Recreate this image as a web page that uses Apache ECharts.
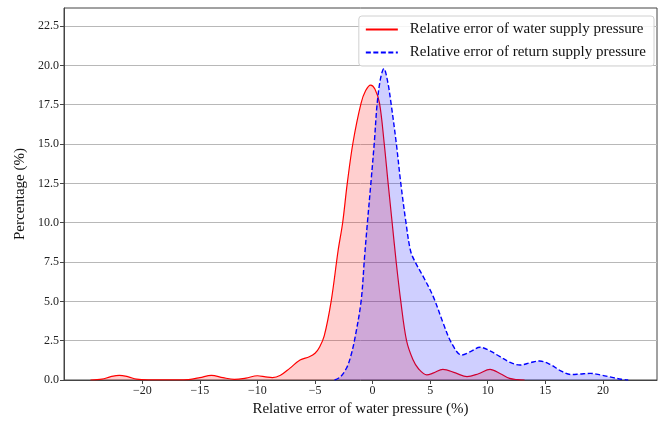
<!DOCTYPE html>
<html>
<head>
<meta charset="utf-8">
<script src="https://cdn.jsdelivr.net/npm/echarts@6/dist/echarts.min.js"></script>
<style>
  html, body { margin: 0; padding: 0; background: #fff; }
  #myChart { width: 664px; height: 424px; }
</style>
</head>
<body>
<div id="myChart"></div>
<script>
// relative error of water supply pressure (%), density in %
const supplyX = [-24.5, -23.5, -22.8, -22, -21.2, -20.5, -19.5, -17, -16, -15, -14, -13, -12, -11, -10, -9.3, -8.7, -8, -7.2, -6.3, -5.5, -5, -4.6, -4.2, -3.6, -3.0, -2.6, -2.2, -1.7, -1.0, -0.6, -0.17, 0.2, 0.6, 1.0, 1.35, 1.7, 2.05, 2.45, 2.95, 3.5, 4.0, 4.7, 5.3, 6.1, 7.2, 8.2, 9.2, 10.2, 11.1, 11.9, 12.6, 13.2];
const supplyY = [0, 0.05, 0.2, 0.3, 0.2, 0.05, 0.01, 0.01, 0.03, 0.15, 0.3, 0.15, 0.04, 0.12, 0.27, 0.2, 0.15, 0.3, 0.74, 1.27, 1.48, 1.7, 2.1, 2.8, 5.0, 8.2, 10.0, 12.5, 15.1, 17.6, 18.4, 18.75, 18.5, 17.6, 15.1, 12.5, 10.0, 7.5, 5.0, 2.5, 1.3, 0.7, 0.32, 0.45, 0.68, 0.45, 0.21, 0.4, 0.68, 0.4, 0.1, 0.02, 0];

// relative error of return supply pressure
const returnX = [-3.3, -2.8, -2.26, -1.9, -1.55, -1.0, -0.7, -0.45, -0.15, 0.15, 0.4, 0.7, 0.98, 1.3, 1.6, 2.05, 2.45, 2.9, 3.3, 3.7, 4.4, 5.27, 6.14, 6.87, 7.74, 8.5, 9.33, 10.2, 11.07, 12.0, 12.8, 13.7, 14.5, 15.4, 16.3, 17.2, 18.0, 18.9, 19.8, 20.9, 21.6, 22.2];
const returnY = [0, 0.2, 0.76, 1.5, 2.6, 5.0, 7.8, 10.0, 12.5, 15.1, 17.6, 19.2, 19.8, 19.0, 17.6, 15.1, 12.5, 10.0, 8.2, 7.5, 6.57, 5.3, 3.6, 2.33, 1.59, 1.8, 2.08, 1.85, 1.48, 1.1, 0.95, 1.1, 1.21, 1.0, 0.6, 0.35, 0.38, 0.42, 0.32, 0.15, 0.05, 0];

const xTicks = [-20, -15, -10, -5, 0, 5, 10, 15, 20];
const yTicks = [0, 2.5, 5, 7.5, 10, 12.5, 15, 17.5, 20, 22.5];

const names = ['Relative error of water supply pressure', 'Relative error of return supply pressure'];

const font = "'Liberation Serif', 'Times New Roman', serif";

const pairs = (xs, ys) => xs.map((v, i) => [v, ys[i]]);

const option = {
  animation: false,
  textStyle: { fontFamily: font },
  grid: {
    left: 64,
    right: 7,
    top: 8,
    bottom: 44,
    show: true,
    borderColor: '#444',
    borderWidth: 1,
  },
  legend: {
    orient: 'vertical',
    right: 10,
    top: 16,
    itemWidth: 32,
    itemHeight: 14,
    itemGap: 8,
    padding: [6, 8, 6, 6],
    backgroundColor: 'rgba(255,255,255,0.85)',
    borderColor: '#d0d0d0',
    borderWidth: 1,
    borderRadius: 3,
    itemStyle: { opacity: 0 }, // hide the dot, keep the line
    textStyle: {
      fontFamily: font,
      fontSize: 15,
      color: '#111',
      padding: [0, 0, 0, 7],
    },
    data: names,
  },
  xAxis: {
    type: 'value',
    min: -26.8,
    max: 24.7,
    name: 'Relative error of water pressure (%)',
    nameLocation: 'middle',
    nameGap: 19,
    nameTextStyle: { fontFamily: font, fontSize: 15, color: '#111' },
    axisLine: { show: true, onZero: false, lineStyle: { color: '#444' } },
    axisTick: { show: true, length: 4, customValues: xTicks, lineStyle: { color: '#444' } },
    axisLabel: {
      customValues: xTicks,
      fontFamily: font,
      fontSize: 12,
      color: '#222',
      margin: 5,
      formatter: (v) => String(v).replace('-', '\u2212'),
    },
    splitLine: { show: false },
  },
  yAxis: {
    type: 'value',
    min: 0,
    max: 23.65,
    name: 'Percentage (%)',
    nameLocation: 'middle',
    nameGap: 33,
    nameTextStyle: { fontFamily: font, fontSize: 15, color: '#111' },
    axisLine: { show: true, onZero: false, lineStyle: { color: '#444' } },
    axisTick: { show: true, length: 4, customValues: yTicks, lineStyle: { color: '#444' } },
    axisLabel: {
      customValues: yTicks,
      fontFamily: font,
      fontSize: 12,
      color: '#222',
      margin: 5,
      formatter: (v) => v.toFixed(1),
    },
    splitLine: { show: true, lineStyle: { color: '#b8b8b8', width: 1 } },
  },
  series: [
    {
      name: names[0],
      type: 'line',
      smooth: 0.35,
      symbol: 'none',
      data: pairs(supplyX, supplyY),
      lineStyle: { color: '#ff0000', width: 1.2 },
      itemStyle: { color: '#ff0000' },
      areaStyle: { color: 'rgba(255,0,0,0.27)', origin: 'start' },
      z: 2,
    },
    {
      name: names[1],
      type: 'line',
      smooth: 0.35,
      symbol: 'none',
      data: pairs(returnX, returnY),
      lineStyle: { color: '#0000ff', width: 1.4, type: [5, 2.5] },
      itemStyle: { color: '#0000ff' },
      areaStyle: { color: 'rgba(0,0,255,0.27)', origin: 'start' },
      z: 3,
    },
  ],
};

const myChart = echarts.init(document.getElementById('myChart'));
myChart.setOption(option);
</script>
</body>
</html>
